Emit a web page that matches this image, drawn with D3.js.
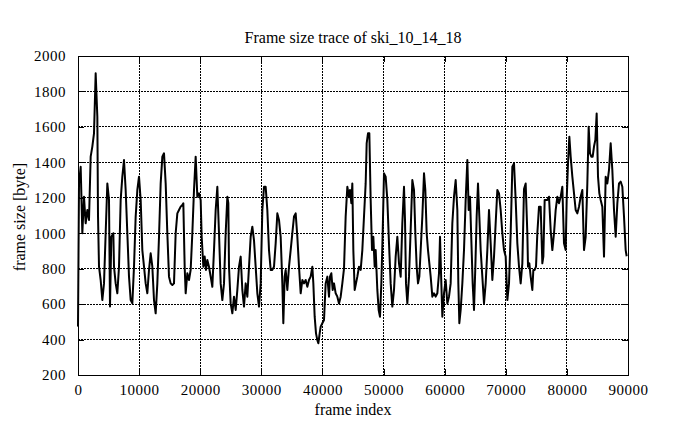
<!DOCTYPE html>
<html><head><meta charset="utf-8">
<script src="https://cdn.jsdelivr.net/npm/d3@7"></script>
<style>body{margin:0;background:#fff}svg text{font-family:"Liberation Serif","Times New Roman",serif;fill:#000}</style>
</head><body><svg id="c" width="695" height="429"></svg>
<script>
const title = "Frame size trace of ski_10_14_18";
const xLabel = "frame index";
const yLabel = "frame size [byte]";
const xTicks = [0,10000,20000,30000,40000,50000,60000,70000,80000,90000];
const yTicks = [200,400,600,800,1000,1200,1400,1600,1800,2000];
const frames = [0,164,437,709,982,1255,1527,1800,2073,2346,2618,2891,3164,3273,3437,3709,3982,4255,4528,4800,5073,5237,5455,5782,5891,6164,6437,6710,6982,7255,7528,7800,8073,8346,8619,8891,9164,9437,9710,9982,10255,10528,10801,11073,11346,11619,11891,12164,12437,12710,12982,13255,13528,13801,
14073,14346,14618,14891,15164,15437,15709,15982,16255,16528,16800,17073,17237,17455,17619,17891,18164,18437,18709,18982,19255,19528,19800,20073,20237,20510,20728,20946,21164,21437,21710,21982,22255,22528,22801,23073,23346,23619,23892,24164,24437,24601,24710,24983,25255,25528,25801,26074,26346,26619,26892,27165,27437,27710,27983,28256,28528,
28800,29073,29346,29618,29891,30164,30437,30709,30982,31255,31528,31800,32073,32346,32619,32891,33164,33437,33600,33819,33982,34255,34528,34800,35073,35346,35619,35891,36164,36437,36710,36982,37255,37528,37801,38073,38346,38510,38728,38946,39164,39328,39546,39710,39983,40255,40528,40801,41073,41237,41455,41673,41892,42164,42437,42710,42983,43255,
43527,43800,44073,44346,44510,44728,44891,45055,45273,45491,45709,45982,46255,46528,46800,47073,47237,47455,47673,47891,48109,48328,48546,48710,48982,49200,49419,49637,49855,50073,50346,50619,50891,51164,51437,51710,51982,52255,52528,52801,53073,53346,53510,53673,53892,54164,54437,54710,54983,55201,55419,55637,55855,56073,56346,56619,56837,57055,57273,57492,57710,57983,
58255,58528,58800,59073,59237,59455,59619,59891,60164,60437,60709,60982,61255,61528,61801,62073,62237,62401,62619,62892,63164,63437,63710,63928,64146,64364,64583,64801,65019,65237,65455,65674,65892,66164,66437,66710,66983,67255,67528,67801,68074,68346,68619,68892,69165,69437,69710,69983,70255,70528,70801,71074,71346,71619,71892,72165,72437,72710,
72982,73255,73528,73637,73855,74073,74346,74510,74728,74946,75164,75437,75710,75982,76146,76364,76583,76801,77074,77346,77619,77892,78165,78437,78710,78983,79255,79528,79801,79965,80183,80401,80619,80892,81165,81437,81710,81983,82256,82528,82801,83074,83346,83564,83783,84001,84219,84437,84655,84874,85092,85310,85528,85801,86074,86346,86619,86892,87165,87437,87710,87983,88256,88528,88801,89074,89346,89619,89783];
const sizes = [473,1280,1375,1000,1206,1056,1131,1075,1432,1489,1564,1902,1658,1100,811,736,623,717,1000,1281,1188,586,980,1000,811,717,661,811,1188,1319,1413,1244,1000,755,623,604,811,1094,1244,1319,1188,905,811,717,661,793,887,811,623,548,717,980,1281,1432,
1451,1281,1000,755,717,708,717,1000,1112,1131,1150,1159,1169,811,661,774,736,793,1000,1244,1432,1206,1225,1188,980,811,868,793,849,811,755,698,905,1131,1262,1000,717,623,717,1000,1206,1169,811,604,548,642,567,680,811,868,680,586,717,642,811,980,1037,
960,811,661,586,717,1131,1262,1262,1131,905,793,793,811,943,1112,1075,980,717,492,755,793,680,811,905,1000,1094,1112,980,811,661,736,717,736,698,736,755,811,717,529,435,397,379,435,473,492,510,717,755,642,755,774,680,717,661,642,604,642,717,
800,1094,1262,1206,1244,1169,1281,905,680,717,755,811,793,905,1094,1281,1507,1564,1564,1188,905,980,811,905,680,567,529,717,1000,1338,1319,1188,943,717,586,680,868,980,830,755,1056,1262,1075,717,604,755,1018,1300,1244,1000,811,717,755,905,1094,1338,1244,1000,905,830,755,642,
661,642,661,774,980,717,529,661,736,604,642,717,1056,1206,1300,1131,717,492,567,717,905,1188,1413,1131,1206,962,717,567,811,1094,1281,1094,905,755,604,717,905,1131,943,736,868,1056,1244,1225,1131,1000,905,868,623,717,1000,1375,1394,1188,943,811,717,830,
1250,1281,1000,811,830,755,680,793,793,811,1000,1150,1150,830,868,1188,1188,1188,1206,1018,905,1000,1131,1206,1169,1206,1262,943,905,1188,1394,1545,1432,1319,1225,1131,1112,1150,1206,1244,905,980,1281,1601,1451,1432,1432,1489,1526,1676,1319,1225,1188,1150,868,1319,1281,1357,1507,1357,1131,980,1169,1281,1291,1262,1094,905,870];

const svg = d3.select("#c");
const m = {l:78, r:628, t:56, b:375};
const x = d3.scaleLinear().domain([0,90000]).range([m.l,m.r]);
const y = d3.scaleLinear().domain([200,2000]).range([m.b,m.t]);

// grid
const g = svg.append("g");
g.selectAll(".gx").data(xTicks.slice(1,-1)).enter().append("line")
 .attr("x1",d=>x(d)).attr("x2",d=>x(d)).attr("y1",m.t).attr("y2",m.b)
 .attr("stroke","#000").attr("stroke-width",1).attr("stroke-dasharray","1.5,1.5").attr("shape-rendering","crispEdges");
g.selectAll(".gy").data(yTicks.slice(1,-1)).enter().append("line")
 .attr("y1",d=>y(d)).attr("y2",d=>y(d)).attr("x1",m.l).attr("x2",m.r)
 .attr("stroke","#000").attr("stroke-width",1).attr("stroke-dasharray","1.5,1.5").attr("shape-rendering","crispEdges");

// axes (ticks inside, mirrored)
const ax = (gen, tx, ty) => svg.append("g").attr("transform",`translate(${tx},${ty})`).call(gen)
 .call(s=>{s.select(".domain").remove(); s.selectAll("line").attr("shape-rendering","crispEdges");});
const fs = "15px";
const xb = ax(d3.axisBottom(x).tickValues(xTicks).tickSize(-6).tickPadding(9).tickFormat(d3.format("d")),0,m.b);
xb.selectAll("text").attr("font-size",fs).attr("font-family","Liberation Serif").attr("letter-spacing","0.5px");
ax(d3.axisTop(x).tickValues(xTicks).tickSize(-6).tickFormat(""),0,m.t);
const yl = ax(d3.axisLeft(y).tickValues(yTicks).tickSize(-6).tickPadding(12).tickFormat(d3.format("d")),m.l,0);
yl.selectAll("text").attr("font-size",fs).attr("font-family","Liberation Serif").attr("letter-spacing","0.5px");
ax(d3.axisRight(y).tickValues(yTicks).tickSize(-6).tickFormat(""),m.r,0);

// line
svg.append("path").datum(frames.map((f,i)=>[f,sizes[i]]))
 .attr("fill","none").attr("stroke","#000").attr("stroke-width",2).attr("stroke-linejoin","round")
 .attr("d", d3.line().x(d=>x(d[0])).y(d=>y(d[1])));

// border
svg.append("rect").attr("x",m.l).attr("y",m.t).attr("width",m.r-m.l).attr("height",m.b-m.t)
 .attr("fill","none").attr("stroke","#000").attr("stroke-width",1).attr("shape-rendering","crispEdges");

svg.append("text").attr("x",353).attr("y",43).attr("text-anchor","middle").attr("font-size","16px").text(title);
svg.append("text").attr("x",353).attr("y",415).attr("text-anchor","middle").attr("font-size","16px").text(xLabel);
svg.append("text").attr("transform","translate(25,217) rotate(-90)").attr("text-anchor","middle").attr("font-size","16px").text(yLabel);
</script></body></html>
